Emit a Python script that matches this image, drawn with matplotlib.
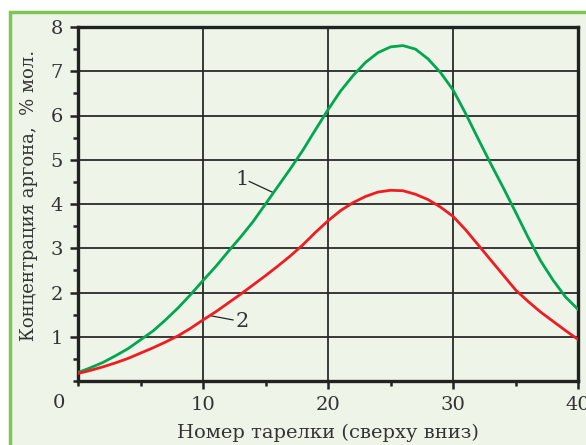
import matplotlib
matplotlib.use("Agg")
import matplotlib.pyplot as plt
from matplotlib.patches import Rectangle
from matplotlib.ticker import MultipleLocator

# plate number and argon concentration
plates = list(range(0, 41))
conc1 = [0.19, 0.30, 0.42, 0.57, 0.73, 0.93, 1.13, 1.38, 1.65, 1.95, 2.27,
         2.58, 2.92, 3.25, 3.60, 4.00, 4.40, 4.80, 5.22, 5.68, 6.13, 6.55,
         6.90, 7.20, 7.42, 7.55, 7.58, 7.50, 7.28, 6.97, 6.58, 6.05, 5.48,
         4.92, 4.38, 3.82, 3.25, 2.72, 2.28, 1.90, 1.62]
conc2 = [0.17, 0.24, 0.32, 0.41, 0.51, 0.63, 0.75, 0.88, 1.02, 1.19, 1.38,
         1.56, 1.76, 1.96, 2.17, 2.38, 2.60, 2.83, 3.08, 3.36, 3.62, 3.85,
         4.03, 4.17, 4.27, 4.31, 4.30, 4.22, 4.10, 3.93, 3.72, 3.42, 3.08,
         2.74, 2.40, 2.06, 1.80, 1.56, 1.35, 1.14, 0.94]

xticks = [10, 20, 30, 40]
yticks = [1, 2, 3, 4, 5, 6, 7, 8]

bg = "#eef4e8"
plt.rcParams['font.family'] = ['DejaVu Serif']

fig = plt.figure(figsize=(5.86, 4.45), dpi=100)
fig.patch.set_facecolor("white")
# green frame round the picture
fig.patches.append(Rectangle((10 / 586, -0.1), 1.2, (445 - 12) / 445 + 0.1,
                             transform=fig.transFigure, facecolor=bg,
                             edgecolor="#7cc651", linewidth=2.5, zorder=-10))

ax = fig.add_axes([78 / 586, 64 / 445, 500 / 586, 354 / 445])
ax.set_zorder(1)
ax.set_facecolor(bg)

ax.plot(plates, conc1, color="#00a651", lw=2.0, zorder=3, solid_joinstyle="round")
ax.plot(plates, conc2, color="#ee1d23", lw=2.0, zorder=3, solid_joinstyle="round")

ax.set_xlim(0, 40)
ax.set_ylim(0, 8)
ax.set_xticks(xticks)
ax.set_yticks(yticks)
ax.xaxis.set_minor_locator(MultipleLocator(5))
ax.yaxis.set_minor_locator(MultipleLocator(0.5))
ax.tick_params(which="major", length=6, width=1.8, color="#222222",
               labelsize=14, direction="out", labelcolor="#333333")
ax.tick_params(which="minor", length=3.5, width=1.8, color="#222222", direction="out")
ax.tick_params(axis="x", pad=5)
ax.tick_params(axis="y", pad=5)
ax.grid(True, which="major", color="#2a2a2a", lw=1.3)
for s in ax.spines.values():
    s.set_linewidth(2.4)
    s.set_color("#222222")

ax.text(-1.5, -0.3, "0", ha="center", va="top", fontsize=14, color="#333333",
        clip_on=False)

ax.set_xlabel("Номер тарелки (сверху вниз)", fontsize=14, labelpad=7,
              color="#333333")
ax.set_ylabel("Концентрация аргона,  % мол.", fontsize=13, color="#333333")
ax.yaxis.set_label_coords(-0.08, 0.525)

# curve labels with leader lines
ax.text(13.1, 4.55, "1", fontsize=15, ha="center", va="center", color="#333333")
ax.plot([13.7, 15.6], [4.51, 4.26], color="#222222", lw=0.9)
ax.text(13.1, 1.35, "2", fontsize=15, ha="center", va="center", color="#333333")
ax.plot([10.7, 12.4], [1.47, 1.38], color="#222222", lw=0.9)

fig.savefig("out.png", dpi=100, facecolor=fig.get_facecolor())
